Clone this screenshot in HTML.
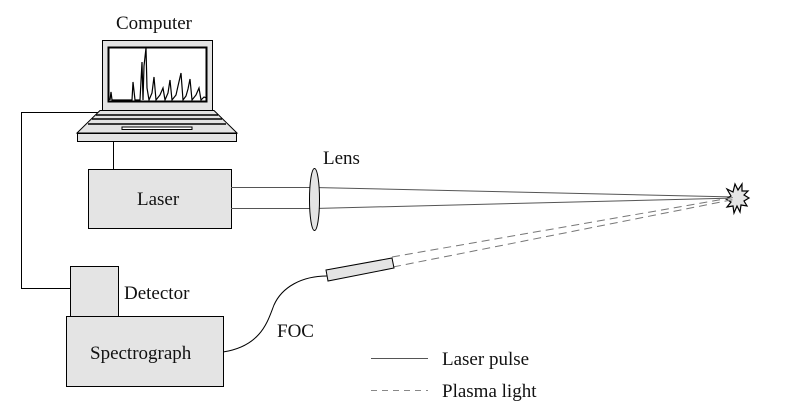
<!DOCTYPE html>
<html><head><style>body{margin:0;background:#fff}svg{display:block}</style></head><body>
<svg width="788" height="416" viewBox="0 0 788 416" xmlns="http://www.w3.org/2000/svg">
<rect x="102.5" y="40.5" width="110" height="70" fill="#e4e4e4" stroke="#000"/>
<rect x="108.5" y="47.5" width="98" height="54" fill="#fff" stroke="#000" stroke-width="2"/>
<polyline fill="none" stroke="#000" stroke-width="1.2" points="110,100 111,92 112,100 132,100 133,82 135,100 140,100 142,62 143,100 144,66 146,48 147,88 149,100 152,93 154,77 156,100 160,95 163,88 165,100 168,93 170,80 172,100 176,95 178,86 181,73 183,100 186,96 188,89 190,79 192,100 196,95 199,88 201,100 204,97 207,98"/>
<polygon points="100,110.5 214,110.5 237,133 77,133" fill="#e4e4e4" stroke="#000"/>
<line x1="96" y1="115" x2="218" y2="115" stroke="#000" stroke-width="1.5"/>
<line x1="92" y1="119" x2="222" y2="119" stroke="#000" stroke-width="1.5"/>
<line x1="88" y1="124" x2="226" y2="124" stroke="#000" stroke-width="1.5"/>
<rect x="122" y="127" width="70" height="2.5" fill="#fff" stroke="#000"/>
<rect x="77.5" y="133.5" width="159" height="8" fill="#e4e4e4" stroke="#000"/>
<line x1="113.5" y1="141" x2="113.5" y2="169" stroke="#000"/>
<polyline points="98,112.5 21.5,112.5 21.5,288.5 70,288.5" fill="none" stroke="#000"/>
<rect x="88.5" y="169.5" width="143" height="59" fill="#e4e4e4" stroke="#000"/>
<line x1="231" y1="187.5" x2="314" y2="187.5" stroke="#555"/>
<line x1="231" y1="208.5" x2="314" y2="208.5" stroke="#555"/>
<line x1="314" y1="187.5" x2="736" y2="197" stroke="#555"/>
<line x1="314" y1="208.5" x2="736" y2="198" stroke="#555"/>
<ellipse cx="314.5" cy="199.5" rx="5" ry="31" fill="#e4e4e4" stroke="#000"/>
<polygon points="727,189 733,192 735,184 738,190 742,184 742,191 748,191 744,195 749,198 744,201 747,206 741,205 740,212 737,206 734,213 733,206 727,207 731,202 726,199 731,196" fill="#e4e4e4" stroke="#000" stroke-width="1.2"/>
<line x1="392" y1="257" x2="736" y2="197" stroke="#777" stroke-dasharray="8,5"/>
<line x1="393" y1="267" x2="736" y2="199" stroke="#777" stroke-dasharray="8,5"/>
<polygon points="326,270 392,258 394,268 328,281" fill="#e4e4e4" stroke="#000"/>
<path d="M223,352 C262,346 268,320 274,305 C282,287 302,276 327,276" fill="none" stroke="#000"/>
<rect x="70.5" y="266.5" width="48" height="50" fill="#e4e4e4" stroke="#000"/>
<rect x="66.5" y="316.5" width="157" height="70" fill="#e4e4e4" stroke="#000"/>
<line x1="371" y1="358.5" x2="428" y2="358.5" stroke="#555"/>
<line x1="371" y1="390.5" x2="428" y2="390.5" stroke="#888" stroke-dasharray="6,5"/>
<g style="font-family:'Liberation Serif','DejaVu Serif',serif;font-size:19px" fill="#111">
<text x="116" y="29">Computer</text>
<text x="137" y="205">Laser</text>
<text x="323" y="164">Lens</text>
<text x="277" y="337">FOC</text>
<text x="124" y="299">Detector</text>
<text x="90" y="359">Spectrograph</text>
<text x="442" y="365">Laser pulse</text>
<text x="442" y="397">Plasma light</text>
</g>
</svg>
</body></html>
